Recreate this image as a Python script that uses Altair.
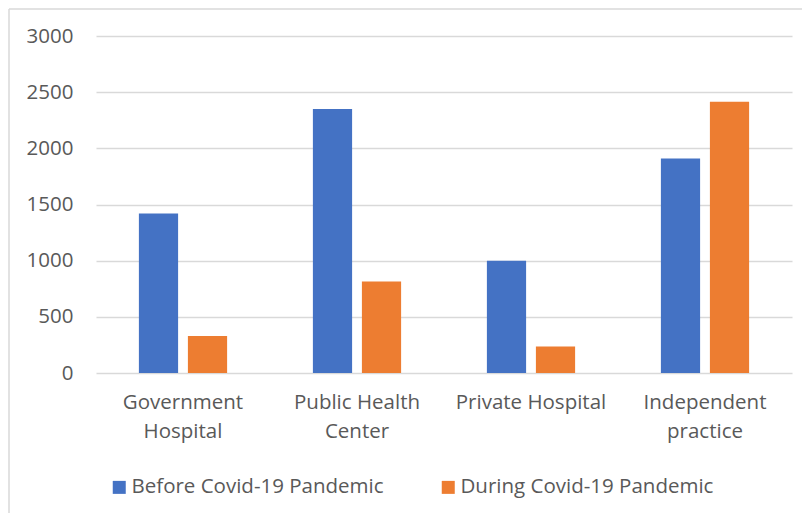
import altair as alt
import pandas as pd

categories = ["Government Hospital", "Public Health Center", "Private Hospital", "Independent practice"]
label_lines = [["Government", "Hospital"], ["Public Health", "Center"], ["Private Hospital"], ["Independent", "practice"]]
series = ["Before Covid-19 Pandemic", "During Covid-19 Pandemic"]
before = [1420, 2350, 1000, 1910]
during = [330, 815, 235, 2415]
y_ticks = [0, 500, 1000, 1500, 2000, 2500, 3000]
colors = ["#4472C4", "#ED7D31"]

rows = []
for c, b, d in zip(categories, before, during):
    rows.append({"category": c, "series": series[0], "value": b})
    rows.append({"category": c, "series": series[1], "value": d})
df = pd.DataFrame(rows)

expr = "datum.label"
for c, lines in reversed(list(zip(categories, label_lines))):
    arr = "[" + ",".join("'" + s + "'" for s in lines) + "]"
    expr = f"datum.value == '{c}' ? {arr} : ({expr})"

text_color = "#595959"
fs = 20.5

bars = alt.Chart(df).mark_bar().encode(
    x=alt.X("category:N", sort=categories, title=None,
            scale=alt.Scale(paddingInner=0.493, paddingOuter=0.2465),
            axis=alt.Axis(labelAngle=0, labelExpr=expr, labelFontSize=fs, labelColor=text_color,
                          labelLineHeight=29.5, labelPadding=19, ticks=False, tickSize=0,
                          domain=False, grid=False, labelBaseline="top")),
    xOffset=alt.XOffset("series:N", sort=series, scale=alt.Scale(paddingInner=0.2, paddingOuter=0)),
    y=alt.Y("value:Q", title=None, scale=alt.Scale(domain=[0, 3000], nice=False),
            axis=alt.Axis(values=y_ticks, format="d", labelFontSize=fs, labelColor=text_color,
                          labelPadding=23, ticks=False, tickSize=0, domain=False, grid=True,
                          gridColor="#d9d9d9", gridWidth=1.3)),
    color=alt.Color("series:N", sort=series, scale=alt.Scale(domain=series, range=colors),
                    legend=alt.Legend(title=None, orient="none", legendX=13, legendY=441,
                                      direction="horizontal", symbolType="square", symbolSize=169,
                                      symbolStrokeWidth=0, labelFontSize=fs, labelColor=text_color,
                                      labelOffset=2, columnPadding=54, labelLimit=400)),
)

frame_df = pd.DataFrame({"a": [0]})
frame_left = alt.Chart(frame_df).mark_rule(color="#d9d9d9", strokeWidth=1.5).encode(
    x=alt.value(-87), y=alt.value(-27), y2=alt.value(500))
frame_top = alt.Chart(frame_df).mark_rule(color="#d9d9d9", strokeWidth=1.5).encode(
    x=alt.value(-87), x2=alt.value(730), y=alt.value(-27))

chart = alt.layer(frame_left, frame_top, bars).properties(
    width=696, height=337,
    padding={"left": 88, "top": 28, "right": 10, "bottom": 140},
    autosize=alt.AutoSizeParams(type="none"),
).configure(font="Open Sans").configure_view(stroke=None)

chart.save("out.html", embed_options={"renderer": "svg", "actions": False})
